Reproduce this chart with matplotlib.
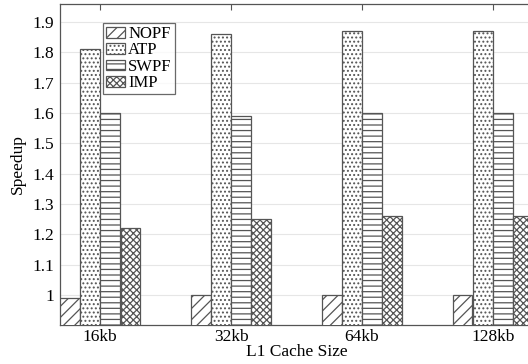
import numpy as np
import matplotlib
matplotlib.use("Agg")
import matplotlib.pyplot as plt

plt.rcParams['font.family'] = ['Liberation Serif', 'DejaVu Serif']
plt.rcParams['hatch.linewidth'] = 0.9
plt.rcParams['hatch.color'] = '#3a3a3a'

cache_sizes = ['16kb', '32kb', '64kb', '128kb']
series_names = ['NOPF', 'ATP', 'SWPF', 'IMP']
nopf = [0.99, 1.00, 1.00, 1.00]
atp = [1.81, 1.86, 1.87, 1.87]
swpf = [1.60, 1.59, 1.60, 1.60]
imp = [1.22, 1.25, 1.26, 1.26]

hatches = ['///', '....', '---', 'xxxxx']

fig = plt.figure(figsize=(5.28, 3.64), dpi=100)
# axis runs slightly past the right edge of the figure, like the original crop
ax = fig.add_axes([60 / 528, 1 - 325 / 364, 473 / 528, 321.5 / 364])

x = np.arange(len(cache_sizes))
w = 0.153
for i, (name, vals) in enumerate(zip(series_names, [nopf, atp, swpf, imp])):
    ax.bar(x + (i - 1.5) * w, vals, w * 0.96, label=name, color='white',
           edgecolor='#555555', linewidth=0.9, hatch=hatches[i], zorder=3)

ax.set_xlim(-2 * w, 3 + 2 * w)
ax.set_ylim(0.902, 1.96)
ax.set_yticks([1.0, 1.1, 1.2, 1.3, 1.4, 1.5, 1.6, 1.7, 1.8, 1.9])
ax.set_yticklabels(['1', '1.1', '1.2', '1.3', '1.4', '1.5', '1.6', '1.7', '1.8', '1.9'])
ax.set_xticks(x)
ax.set_xticklabels(cache_sizes)
ax.tick_params(axis='both', labelsize=12.5, direction='in', color='#555555')
ax.tick_params(axis='x', top=True, length=4, pad=3)
ax.tick_params(axis='y', length=0, pad=4)
ax.yaxis.grid(True, color='#e6e6e6', linewidth=0.8, zorder=0)
ax.set_axisbelow(True)
for s in ax.spines.values():
    s.set_color('#555555')
    s.set_linewidth(0.9)

ax.set_ylabel('Speedup', fontsize=12.5, labelpad=5)
ax.set_xlabel('L1 Cache Size', fontsize=12.5, labelpad=-1)

leg = ax.legend(loc='upper left', bbox_to_anchor=(0.091, 0.94), fontsize=12,
                frameon=True, fancybox=False, handlelength=1.1, handleheight=0.6,
                handletextpad=0.2, labelspacing=0.02, borderpad=0.2, borderaxespad=0)
leg.get_frame().set_edgecolor('#444444')
leg.get_frame().set_linewidth(0.9)

fig.savefig('out.png', dpi=100)
